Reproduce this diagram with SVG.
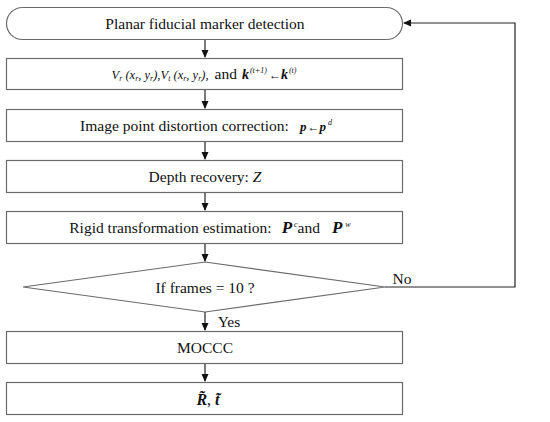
<svg xmlns="http://www.w3.org/2000/svg" width="550" height="422" viewBox="0 0 550 422">
<defs>
<style>
.box{fill:#fff;stroke:#6b6b6b;stroke-width:1.2}
.ln{fill:none;stroke:#222;stroke-width:1.2}
.t{font-size:15.5px;fill:#111;text-anchor:middle}
.m{font-style:italic;fill:#111}
.b{font-weight:bold}
</style>
<marker id="ah" markerWidth="8" markerHeight="8" refX="7" refY="4" orient="auto" markerUnits="userSpaceOnUse">
<path d="M0,0.5 L8,4 L0,7.5 Z" fill="#111"/>
</marker>
</defs>
<rect width="550" height="422" fill="#fff"/>
<g font-family="Liberation Serif, serif">
<g id="n1"><rect class="box" x="6.5" y="7.5" width="396" height="32" rx="16"/><text class="t" font-family="Liberation Serif, serif" x="205" y="29">Planar fiducial marker detection</text></g>
<g id="n2"><rect class="box" x="6.5" y="58.5" width="396" height="31"/>
<text class="t" x="204" y="79" font-family="Liberation Serif, serif"><tspan class="m" font-size="12.5">V<tspan font-size="8" dy="2">r</tspan><tspan dy="-2"> (x</tspan><tspan font-size="8" dy="2">r</tspan><tspan dy="-2">, y</tspan><tspan font-size="8" dy="2">r</tspan><tspan dy="-2">),V</tspan><tspan font-size="8" dy="2">t</tspan><tspan dy="-2"> (x</tspan><tspan font-size="8" dy="2">r</tspan><tspan dy="-2">, y</tspan><tspan font-size="8" dy="2">r</tspan><tspan dy="-2">),</tspan></tspan><tspan dx="6">and</tspan><tspan dx="5" class="m b" font-size="14">k</tspan><tspan dx="1" class="m" font-size="8" dy="-6">(t+1)</tspan><tspan dx="2" font-size="12" dy="6">←</tspan><tspan class="m b" font-size="14">k</tspan><tspan dx="1" class="m" font-size="8" dy="-6">(t)</tspan></text></g>
<g id="n3"><rect class="box" x="6.5" y="109.5" width="396" height="32"/><text class="t" font-family="Liberation Serif, serif" x="206" y="131">Image point distortion correction:<tspan dx="11" class="m b" font-size="13">p</tspan><tspan dx="1" font-size="12">←</tspan><tspan class="m b" font-size="13">p</tspan><tspan dx="2" class="m" font-size="8" dy="-6">d</tspan></text></g>
<g id="n4"><rect class="box" x="6.5" y="160.5" width="396" height="32"/><text class="t" font-family="Liberation Serif, serif" x="205" y="182">Depth recovery: <tspan class="m">Z</tspan></text></g>
<g id="n5"><rect class="box" x="6.5" y="211.5" width="396" height="32"/><text class="t" font-family="Liberation Serif, serif" x="210" y="233">Rigid transformation estimation:<tspan dx="10" class="m b" font-size="17">P</tspan><tspan dx="2" class="m" font-size="8" dy="-6">c</tspan><tspan dy="6">and</tspan><tspan dx="12" class="m b" font-size="17">P</tspan><tspan dx="3" class="m" font-size="8" dy="-6">w</tspan></text></g>
<g id="n6"><path class="box" d="M205,262 L385,287 L205,312 L23,287 Z"/><text class="t" font-family="Liberation Serif, serif" x="205" y="293">If frames = 10 ?</text></g>
<g id="n7"><rect class="box" x="6.5" y="331.5" width="396" height="32"/><text class="t" font-family="Liberation Serif, serif" x="205" y="353">MOCCC</text></g>
<g id="n8"><rect class="box" x="6.5" y="382.5" width="396" height="32"/><text x="208" y="405" text-anchor="middle" font-size="16" fill="#111" font-family="Liberation Serif, serif"><tspan class="m b">R̃</tspan>, <tspan class="m b">t̃</tspan></text></g>
<g id="edges">
<line class="ln" x1="205" y1="40" x2="205" y2="57" marker-end="url(#ah)"/>
<line class="ln" x1="205" y1="90" x2="205" y2="108" marker-end="url(#ah)"/>
<line class="ln" x1="205" y1="142" x2="205" y2="159" marker-end="url(#ah)"/>
<line class="ln" x1="205" y1="193" x2="205" y2="210" marker-end="url(#ah)"/>
<line class="ln" x1="205" y1="244" x2="205" y2="261" marker-end="url(#ah)"/>
<line class="ln" x1="205" y1="312" x2="205" y2="330" marker-end="url(#ah)"/>
<line class="ln" x1="205" y1="364" x2="205" y2="381" marker-end="url(#ah)"/>
<polyline class="ln" points="385,287 515,287 515,23 404,23" marker-end="url(#ah)"/>
<text class="t" font-family="Liberation Serif, serif" x="402" y="284">No</text>
<text class="t" font-family="Liberation Serif, serif" x="229" y="327">Yes</text>
</g>
</g>
</svg>
